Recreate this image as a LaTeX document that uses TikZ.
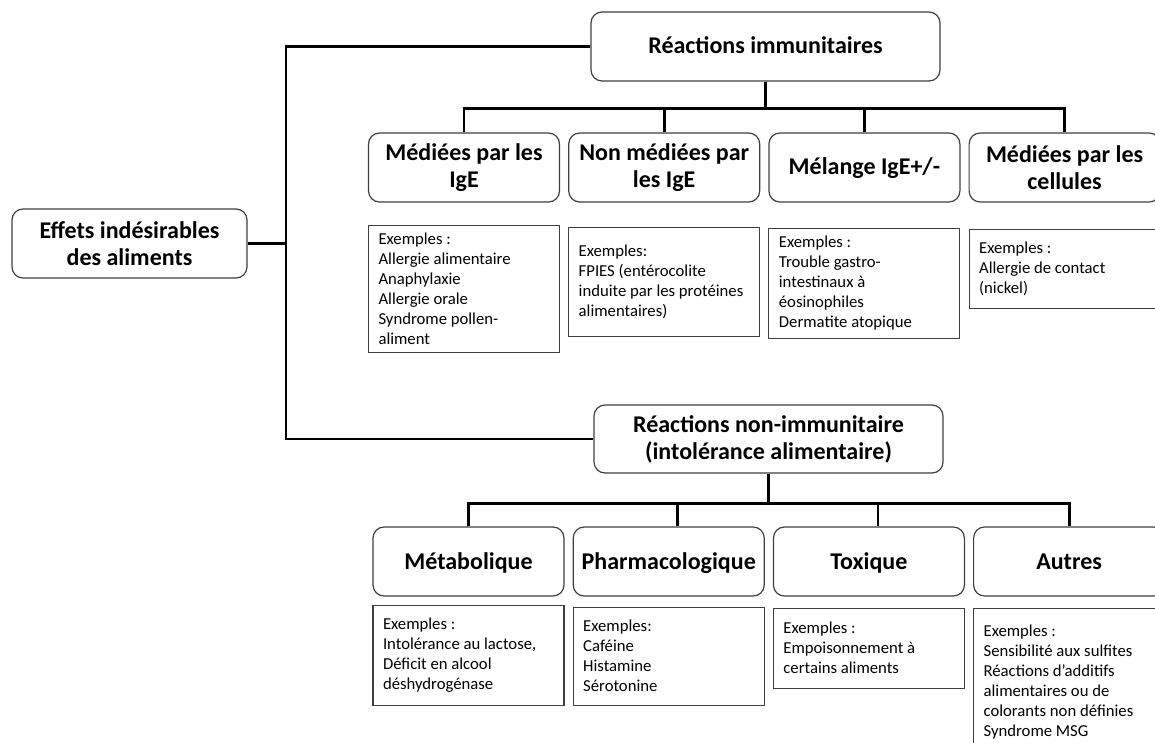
\documentclass[tikz,border=0pt]{standalone}
\usepackage{fontspec}
\setmainfont{Carlito}
\usetikzlibrary{positioning}
\newcommand{\headfont}{\fontsize{24}{27}\selectfont\bfseries}
\newcommand{\exfont}{\fontsize{16.7}{20}\selectfont}
\tikzset{
  catbox/.style={draw=black!75, line width=1.2pt, rounded corners=11pt, fill=white,
    align=center, font=\headfont, inner sep=0pt, minimum height=69pt,
    execute at begin node={\spaceskip=0pt\xspaceskip=0pt\relax}},
  oneline/.style={text height=15pt, text depth=0pt},
  exbox/.style={draw=black!75, line width=1.1pt, fill=white, align=left, font=\exfont,
    inner xsep=10pt, inner ysep=0pt, text width=171pt,
    execute at begin node={\spaceskip=0pt\xspaceskip=0pt\relax}},
  link/.style={line width=2.8pt}
}

\begin{document}
\begin{tikzpicture}[x=1pt, y=-1pt]
  \useasboundingbox (0,0) rectangle (1155,743);
  \clip (0,0) rectangle (1155,743);

  \node[catbox, minimum width=235pt] (root) at (129.5,243.5) {Effets indésirables\\des aliments};
  \node[catbox, oneline, minimum width=349pt] (ri) at (765.5,46.5) {Réactions immunitaires};
  \node[catbox, minimum width=349pt, minimum height=68pt] (rni) at (768.5,439) {Réactions non-immunitaire\\(intolérance alimentaire)};

  % réactions immunitaires
  \node[catbox, minimum width=191pt] (c1) at (464,167.5) {Médiées par les\\IgE};
  \node[catbox, minimum width=191pt, right=8pt of c1] (c2) {Non médiées par\\les IgE};
  \node[catbox, oneline, minimum width=191pt, right=8pt of c2] (c3) {Mélange IgE+/-};
  \node[catbox, minimum width=191pt, right=8pt of c3] (c4) {Médiées par les\\cellules};

  \node[exbox, minimum height=127pt, below=22pt of c1] (e1) {Exemples :\\Allergie alimentaire\\Anaphylaxie\\Allergie orale\\Syndrome pollen-\\aliment};
  \node[exbox, minimum height=109pt, below=24pt of c2] (e2) {Exemples:\\FPIES (entérocolite\\induite par les protéines\\alimentaires)};
  \node[exbox, minimum height=110pt, below=25pt of c3] (e3) {Exemples :\\Trouble gastro-\\intestinaux à\\éosinophiles\\Dermatite atopique};
  \node[exbox, minimum height=79pt, below=26pt of c4] (e4) {Exemples :\\Allergie de contact\\(nickel)};

  % réactions non immunitaires
  \node[catbox, oneline, minimum width=191pt] (m1) at (468.5,561.5) {Métabolique};
  \node[catbox, oneline, minimum width=191pt, right=8pt of m1] (m2) {Pharmacologique};
  \node[catbox, oneline, minimum width=191pt, right=8pt of m2] (m3) {Toxique};
  \node[catbox, oneline, minimum width=191pt, right=8pt of m3] (m4) {Autres};

  \node[exbox, minimum height=100pt, below=8pt of m1] (x1) {Exemples :\\Intolérance au lactose,\\Déficit en alcool\\déshydrogénase};
  \node[exbox, minimum height=98pt, below=10pt of m2] (x2) {Exemples:\\Caféine\\Histamine\\Sérotonine};
  \node[exbox, minimum height=80pt, below=11pt of m3] (x3) {Exemples :\\Empoisonnement à\\certains aliments};
  \node[exbox, minimum height=148pt, below=11pt of m4] (x4) {Exemples :\\Sensibilité aux sulfites\\Réactions d’additifs\\alimentaires ou de\\colorants non définies\\Syndrome MSG};

  % liens
  \coordinate (tk) at (286,0);
  \draw[link] (ri.west) -- (ri.west -| tk) -- (rni.west -| tk) -- (rni.west);
  \draw[link] (root.east) -- (root.east -| tk);

  \draw[link] (ri.south) -- ++(0,27) coordinate (ib);
  \draw[link] (c1.north) -- (c1.north |- ib) -- (c4.north |- ib) -- (c4.north);
  \draw[link] (c2.north) -- (c2.north |- ib);
  \draw[link] (c3.north) -- (c3.north |- ib);

  \draw[link] (rni.south) -- ++(0,30) coordinate (nb);
  \draw[link] (m1.north) -- (m1.north |- nb) -- (m4.north |- nb) -- (m4.north);
  \draw[link] ([xshift=9pt]m2.north) -- ([xshift=9pt]m2.north |- nb);
  \draw[link] ([xshift=9pt]m3.north) -- ([xshift=9pt]m3.north |- nb);
\end{tikzpicture}
\end{document}
